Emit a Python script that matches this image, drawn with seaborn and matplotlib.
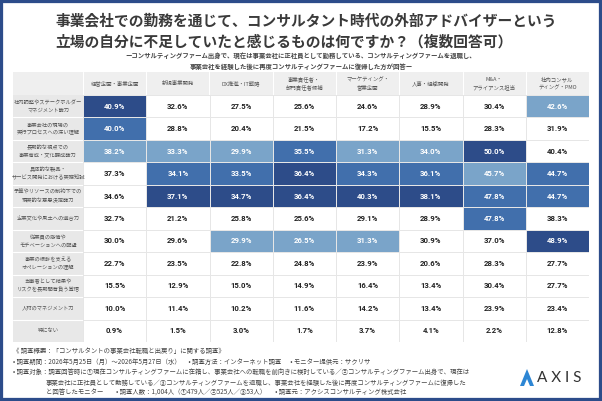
import numpy as np
import pandas as pd
import seaborn as sns
import matplotlib.pyplot as plt
from matplotlib.colors import ListedColormap
from matplotlib.patches import Rectangle, Polygon
from matplotlib.lines import Line2D
import matplotlib.transforms as mtransforms

sns.set_theme(style="white")
plt.rcParams['font.family'] = ['Noto Sans CJK JP', 'DejaVu Sans']

# ---- data ----
columns = ["経営企画・事業企画", "新規事業開発", "DX推進・IT戦略", "事業責任者・\n部門責任者候補",
           "マーケティング・\n営業企画", "人事・組織開発", "M&A・\nアライアンス担当", "社内コンサル\nティング・PMO"]
rows = ["社内調整やステークホルダー\nマネジメント能力",
        "事業会社の現場の\n実行プロセスへの深い理解",
        "長期的な視点での\n事業育成・文化醸成能力",
        "具体的な製品・\nサービス開発における実務知識",
        "予算やリソースの制約下での\n現実的な意思決定能力",
        "企業文化や風土への適合力",
        "従業員の感情や\nモチベーションへの配慮",
        "事業の根幹を支える\nオペレーションの理解",
        "当事者として結果や\nリスクを長期間背負う覚悟",
        "人材のマネジメント力",
        "特にない"]
values = [
    [40.9, 32.6, 27.5, 25.6, 24.6, 28.9, 30.4, 42.6],
    [40.0, 28.8, 20.4, 21.5, 17.2, 15.5, 28.3, 31.9],
    [38.2, 33.3, 29.9, 35.5, 31.3, 34.0, 50.0, 40.4],
    [37.3, 34.1, 33.5, 36.4, 34.3, 36.1, 45.7, 44.7],
    [34.6, 37.1, 34.7, 36.4, 40.3, 38.1, 47.8, 44.7],
    [32.7, 21.2, 25.8, 25.6, 29.1, 28.9, 47.8, 38.3],
    [30.0, 29.6, 29.9, 26.5, 31.3, 30.9, 37.0, 48.9],
    [22.7, 23.5, 22.8, 24.8, 23.9, 20.6, 28.3, 27.7],
    [15.5, 12.9, 15.0, 14.9, 16.4, 13.4, 30.4, 27.7],
    [10.0, 11.4, 10.2, 11.6, 14.2, 13.4, 23.9, 23.4],
    [0.9, 1.5, 3.0, 1.7, 3.7, 4.1, 2.2, 12.8],
]

title = "事業会社での勤務を通じて、コンサルタント時代の外部アドバイザーという\n立場の自分に不足していたと感じるものは何ですか？（複数回答可）"
subtitle = ("ーコンサルティングファーム出身で、現在は事業会社に正社員として勤務している、コンサルティングファームを退職し、\n"
            "事業会社を経験した後に再度コンサルティングファームに復帰した方が回答ー")
footer = [
    "《 調査概要：「コンサルタントの事業会社転職と出戻り」に関する調査》",
    "• 調査期間：2026年5月25日（月）〜2026年5月27日（水）　 • 調査方法：インターネット調査 　 • モニター提供元：サクリサ",
    "• 調査対象：調査回答時に①現在コンサルティングファームに在籍し、事業会社への転職を前向きに検討している／②コンサルティングファーム出身で、現在は",
    "事業会社に正社員として勤務している／③コンサルティングファームを退職し、事業会社を経験した後に再度コンサルティングファームに復帰した",
    "と回答したモニター　　• 調査人数：1,004人（①479人／②525人／③53人）　  • 調査元：アクシスコンサルティング株式会社",
]

df = pd.DataFrame(values, index=rows, columns=columns)
# top 3 per column (dense rank) -> colour level
rank = df.rank(axis=0, method="dense", ascending=False)
level = (4 - rank).clip(lower=0)
labels = df.map(lambda v: f"{v:.1f}%")

W, H = 602, 401
fig = plt.figure(figsize=(W / 100, H / 100), dpi=100, facecolor="white")

def fx(x):
    return x / W

def fy(y):
    return 1 - y / H

# table geometry (px)
left, lab_left, right = 83, 13, 589
top_head, top, bottom = 72, 95, 342

ax = fig.add_axes([fx(left), fy(bottom), fx(right - left), (bottom - top) / H])
cmap = ListedColormap(["#ffffff", "#7aa4c9", "#416fac", "#2d4c89"])
sns.heatmap(level, ax=ax, cmap=cmap, vmin=-0.5, vmax=3.5, cbar=False,
            annot=labels, fmt="", linewidths=0.5, linecolor="#e6e6e6",
            annot_kws=dict(fontsize=5.6, fontweight="bold", family=["Roboto", "DejaVu Sans"]))
for t, lv in zip(ax.texts, level.values.flatten()):
    t.set_color("white" if lv > 0 else "#222222")
ax.set_xticks([])
ax.set_yticks([])
ax.set_xlabel("")
ax.set_ylabel("")

# header band and label column
fig.patches.append(Rectangle((fx(lab_left), fy(top)), fx(right - lab_left), (top - top_head) / H,
                             transform=fig.transFigure, facecolor="#efefef", edgecolor="none", zorder=-2))
fig.patches.append(Rectangle((fx(lab_left), fy(bottom)), fx(left - lab_left), (bottom - top) / H,
                             transform=fig.transFigure, facecolor="#e8e8e8", edgecolor="none", zorder=-2))
rh = (bottom - top) / len(rows)
for i in range(1, len(rows)):
    yy = fy(top + i * rh)
    fig.lines.append(Line2D([fx(lab_left), fx(left)], [yy, yy], transform=fig.transFigure,
                            color="white", lw=0.8, zorder=-1))
cw = (right - left) / len(columns)
for j in range(len(columns)):
    xx = fx(left + j * cw)
    fig.lines.append(Line2D([xx, xx], [fy(top_head), fy(top)], transform=fig.transFigure,
                            color="white", lw=0.8, zorder=-1))

trans_x = mtransforms.blended_transform_factory(ax.transData, ax.transAxes)
for j, c in enumerate(columns):
    ax.text(j + 0.5, 1 + (top - top_head) / 2 / (bottom - top), c, transform=trans_x,
            ha="center", va="center", fontsize=3.9, color="#555555", linespacing=1.5, clip_on=False)
for i, r in enumerate(rows):
    ax.text(-(left - lab_left) / 2 / cw, i + 0.5, r, ha="center", va="center",
            fontsize=3.8, color="#555555", linespacing=1.6, clip_on=False)

# titles
fig.text(fx(55), fy(31), title, fontsize=10.6, fontweight="bold", color="#3a3a3a",
         va="center", ha="left", linespacing=1.35)
fig.text(fx(301), fy(61), subtitle, fontsize=4.6, fontweight="bold", color="#444444",
         va="center", ha="center", linespacing=1.5)

# footer
fy_lines = [351, 362, 372, 383, 393]
fx_lines = [13, 13, 13, 46, 46]
for s, x0, y0 in zip(footer, fx_lines, fy_lines):
    fig.text(fx(x0), fy(y0), s, fontsize=4.6, color="#444444", va="center", ha="left")

# logo
fig.patches.append(Polygon([[fx(520), fy(386)], [fx(527), fy(369)], [fx(534), fy(386)]],
                           closed=True, transform=fig.transFigure, facecolor="#2d86d4", edgecolor="none"))
fig.patches.append(Polygon([[fx(524), fy(386)], [fx(527), fy(379)], [fx(530), fy(386)]],
                           closed=True, transform=fig.transFigure, facecolor="white", edgecolor="none"))
fig.text(fx(537), fy(378), "A X I S", fontsize=11, color="#333333", va="center", ha="left",
         family=["Lato", "DejaVu Sans"])

# frame
fig.patches.append(Rectangle((0, 0), 1, 1, transform=fig.transFigure, fill=False,
                             edgecolor="#2c4c8a", lw=4.5))

fig.savefig("out.png", dpi=100)
